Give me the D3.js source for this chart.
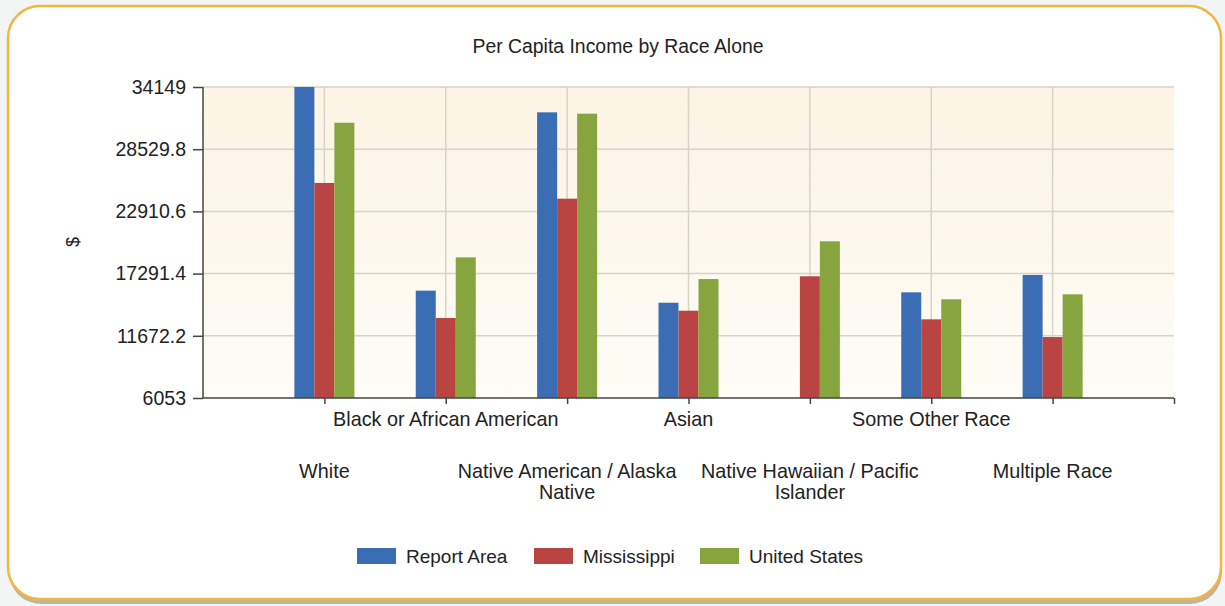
<!DOCTYPE html>
<html>
<head>
<meta charset="utf-8">
<script src="https://cdn.jsdelivr.net/npm/d3@7"></script>
<style>
  body { margin:0; background:#f3f5f5; }
  svg text { font-family: "Liberation Sans", Arial, sans-serif; fill:#222; }
  .axis path, .axis line { stroke:#444; stroke-width:1.5; }
  .axis text { font-size:19.5px; fill:#222; }
</style>
</head>
<body>
<svg id="chart" width="1225" height="606"></svg>
<script>
// data
let categories = ["White", "Black or African American", "Native American / Alaska Native",
  "Asian", "Native Hawaiian / Pacific Islander", "Some Other Race", "Multiple Race"]
let seriesNames = ["Report Area", "Mississippi", "United States"]
let reportArea   = [34149, 15750, 31860, 14660, null, 15600, 17170]
let mississippi  = [25480, 13280, 24060, 13940, 17050, 13160, 11560]
let unitedStates = [30920, 18760, 31740, 16800, 20210, 14970, 15420]
let yTicks = [6053, 11672.2, 17291.4, 22910.6, 28529.8, 34149]
let colors = ["#3b6db5", "#b94442", "#87a53f"]

let svg = d3.select("#chart")
let allSeries = [reportArea, mississippi, unitedStates]

// frame
let defs = svg.append("defs")
let grad = defs.append("linearGradient").attr("id","plotBg").attr("x1",0).attr("y1",0).attr("x2",0).attr("y2",1)
grad.append("stop").attr("offset","0%").attr("stop-color","#fcf4e4")
grad.append("stop").attr("offset","100%").attr("stop-color","#fefcf6")

svg.append("rect").attr("x",9).attr("y",9).attr("width",1213).attr("height",595)
  .attr("rx",32).attr("fill","#b8a88a").attr("opacity",0.85)
svg.append("rect").attr("x",8).attr("y",6).attr("width",1213).attr("height",593)
  .attr("rx",32).attr("fill","#fff").attr("stroke","#f2b640").attr("stroke-width",2.5)

let pLeft = 203, pRight = 1174, pTop = 87, pBottom = 398

let xScale = d3.scaleLinear().domain([0, 8]).range([pLeft, pRight])
let xSub = d3.scaleBand().domain(seriesNames).range([-30, 30])
let yScale = d3.scaleLinear().domain([yTicks[0], yTicks[yTicks.length-1]]).range([pBottom, pTop])

// plot background
svg.append("rect").attr("x",pLeft).attr("y",pTop).attr("width",pRight-pLeft).attr("height",pBottom-pTop)
  .attr("fill","url(#plotBg)")

// grid
svg.append("g").selectAll("line").data(yTicks.slice(1)).enter().append("line")
  .attr("x1",pLeft).attr("x2",pRight)
  .attr("y1",d => yScale(d)).attr("y2",d => yScale(d))
  .attr("stroke","#d6d3cb").attr("stroke-width",1.5)
svg.append("g").selectAll("line").data(d3.range(1, 8)).enter().append("line")
  .attr("x1",d => xScale(d)).attr("x2",d => xScale(d))
  .attr("y1",pTop).attr("y2",pBottom)
  .attr("stroke","#d6d3cb").attr("stroke-width",1.5)

// bars
allSeries.forEach(function (vals, s) {
  svg.append("g").selectAll("rect")
    .data(vals.map((v, i) => ({v: v, i: i})).filter(d => d.v != null))
    .enter().append("rect")
    .attr("x", d => xScale(d.i + 1) + xSub(seriesNames[s]))
    .attr("width", xSub.bandwidth())
    .attr("y", d => yScale(d.v))
    .attr("height", d => pBottom - yScale(d.v))
    .attr("fill", colors[s])
})

// axes
let y_axis = d3.axisLeft(yScale).tickValues(yTicks).tickSize(10).tickPadding(7)
  .tickFormat(d => String(d))
svg.append("g").attr("class","axis").attr("transform",`translate(${pLeft},0)`).call(y_axis)
  .call(g => g.select(".domain").attr("d", `M0,${pTop}V${pBottom}`))

let x_axis = d3.axisBottom(xScale).tickValues(d3.range(1, 9)).tickSize(6).tickFormat("")
svg.append("g").attr("class","axis").attr("transform",`translate(0,${pBottom})`).call(x_axis)
  .call(g => g.select(".domain").attr("d", `M${pLeft},0H${pRight}`))

// category labels, staggered in two rows
let catLines = [["White"], ["Black or African American"], ["Native American / Alaska", "Native"],
  ["Asian"], ["Native Hawaiian / Pacific", "Islander"], ["Some Other Race"], ["Multiple Race"]]
catLines.forEach(function (lines, i) {
  let t = svg.append("text").attr("text-anchor","middle").attr("font-size","19.8px")
    .attr("x", xScale(i + 1)).attr("y", i % 2 == 1 ? 426 : 478)
  lines.forEach(function (l, k) {
    t.append("tspan").attr("x", xScale(i + 1)).attr("dy", k == 0 ? 0 : 21).text(l)
  })
})

// title
svg.append("text").attr("x",618).attr("y",53).attr("text-anchor","middle")
  .attr("font-size","19.4px").text("Per Capita Income by Race Alone")

// y label
svg.append("text").attr("transform","translate(79,242) rotate(-90)").attr("text-anchor","middle")
  .attr("font-size","18px").text("$")

// legend
let lgX = [357, 534, 700]
seriesNames.forEach(function (d, i) {
  let lgnd = svg.append("g").attr("transform",`translate(${lgX[i]},548)`)
  lgnd.append("rect").attr("width",39).attr("height",16).attr("fill",colors[i])
  lgnd.append("text").attr("x",49).attr("y",15).attr("font-size","19px").text(d)
})
</script>
</body>
</html>
